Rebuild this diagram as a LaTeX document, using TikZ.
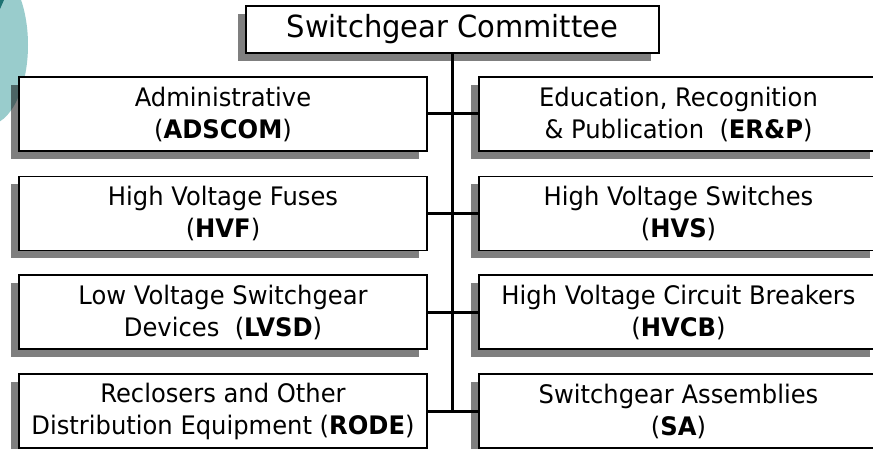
\documentclass[tikz,border=0pt]{standalone}
\usepackage{fontspec}
\setmainfont[FakeStretch=0.95]{DejaVu Sans}
\usetikzlibrary{shadows}
\definecolor{tealA}{HTML}{99CCCC}
\definecolor{tealB}{HTML}{1E7272}
\begin{document}
\begin{tikzpicture}[x=1pt,y=-1pt,
  box/.style={draw=black, line width=1.2pt, fill=white, inner sep=0pt, align=center,
    font=\fontsize{25.5}{32}\selectfont,
    drop shadow={shadow xshift=-8pt, shadow yshift=-8pt, opacity=0.5, fill=black}},
  lbox/.style={box, minimum width=408pt, minimum height=74pt},
  rbox/.style={box, minimum width=399pt, minimum height=74pt},
  topbox/.style={box, minimum width=413pt, minimum height=47pt, font=\fontsize{30.5}{36}\selectfont},
  link/.style={line width=3pt}]
\clip (0,0) rectangle (873,449);
\fill[white] (0,0) rectangle (873,449);
% decorative circle
\fill[tealA] (-12,45) ellipse [x radius=40, y radius=80];
\fill[tealB] (0,0) -- (4,0) .. controls (2.5,4) .. (0,9) -- cycle;
% boxes
\node[topbox] (top) at (452.5,29.5) {Switchgear Committee};
\node[lbox] (l1) at (223,114) {Administrative\\(\textbf{ADSCOM})};
\node[lbox] (l2) at (223,213.5) {High Voltage Fuses\\(\textbf{HVF})};
\node[lbox] (l3) at (223,312) {Low Voltage Switchgear\\Devices\ \ (\textbf{LVSD})};
\node[lbox] (l4) at (223,411) {Reclosers and Other\\Distribution Equipment (\textbf{RODE})};
\node[rbox] (r1) at (678.5,114) {Education, Recognition\\\& Publication\ \ (\textbf{ER\&P})};
\node[rbox] (r2) at (678.5,213.5) {High Voltage Switches\\(\textbf{HVS})};
\node[rbox] (r3) at (678.5,312) {High Voltage Circuit Breakers\\(\textbf{HVCB})};
\node[rbox] (r4) at (678.5,411) {Switchgear Assemblies\\(\textbf{SA})};
% connectors
\coordinate (tend) at (top.south |- l4.east);
\draw[link] (top.south) -- (tend);
\draw[link] (l1.east) -- (r1.west);
\draw[link] (l2.east) -- (r2.west);
\draw[link] (l3.east) -- (r3.west);
\draw[link] (l4.east) -- (r4.west);
\end{tikzpicture}
\end{document}
